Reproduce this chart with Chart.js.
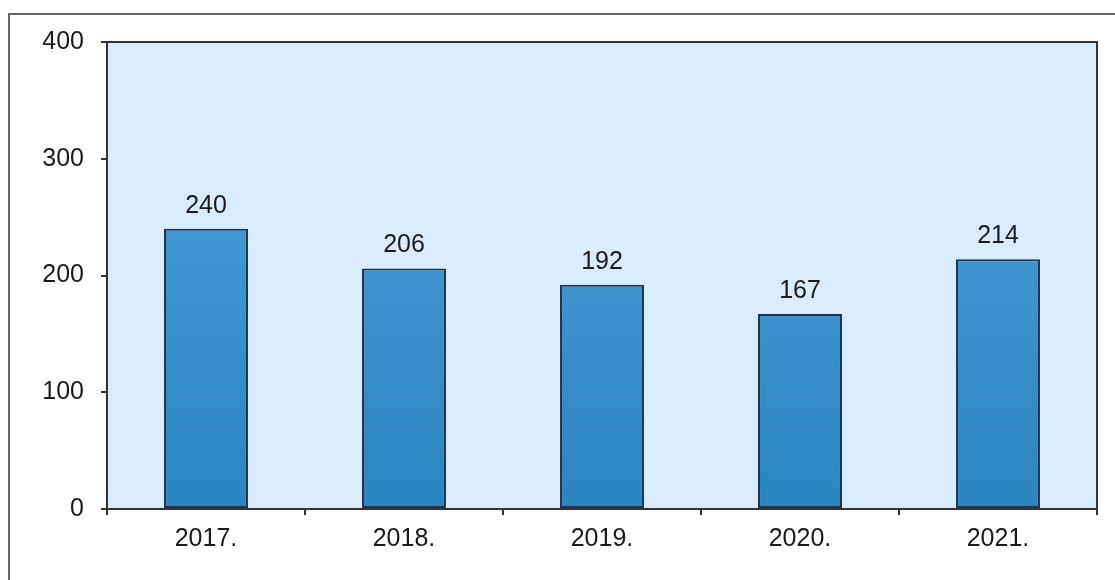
<!DOCTYPE html>
<html>
<head>
<meta charset="utf-8">
<script src="https://cdn.jsdelivr.net/npm/chart.js@4/dist/chart.umd.min.js"></script>
<style>
  html, body { margin: 0; padding: 0; background: #fff; }
  #wrap { width: 1115px; height: 580px; position: relative; }
</style>
</head>
<body>
<div id="wrap"><canvas id="chartGodine" width="1115" height="580"></canvas></div>
<script>
// podaci sa grafikona
const godine = ["2017.", "2018.", "2019.", "2020.", "2021."];
const brojSlucajeva = [240, 206, 192, 167, 214];
const yTicks = [0, 100, 200, 300, 400];

const ctx = document.getElementById("chartGodine");

// pozadina, okvir i brojevi iznad stupaca
const okvirPlugin = {
  id: "okvir",
  beforeDraw(chart) {
    const c = chart.ctx;
    const a = chart.chartArea;
    c.save();
    c.fillStyle = "#d9ecfb";
    c.fillRect(a.left, a.top, a.right - a.left, a.bottom - a.top);
    // vanjski okvir slike
    c.strokeStyle = "#666";
    c.lineWidth = 2;
    c.beginPath();
    c.moveTo(9, 580);
    c.lineTo(9, 14);
    c.lineTo(1115, 14);
    c.stroke();
    c.restore();
  },
  afterDraw(chart) {
    const c = chart.ctx;
    const a = chart.chartArea;
    c.save();
    c.strokeStyle = "#333";
    c.lineWidth = 2;
    c.beginPath();
    c.moveTo(a.left, a.top);
    c.lineTo(a.right, a.top);
    c.lineTo(a.right, a.bottom);
    c.stroke();
    // vrijednosti
    c.fillStyle = "#1a1a1a";
    c.font = "25px 'Liberation Sans', Arial, sans-serif";
    c.textAlign = "center";
    c.textBaseline = "alphabetic";
    chart.getDatasetMeta(0).data.forEach(function (bar, i) {
      c.fillText(brojSlucajeva[i], bar.x, bar.y - 16);
    });
    c.restore();
  },
};

function gradijent(context) {
  const chart = context.chart;
  const a = chart.chartArea;
  if (!a) return "#3a92cf";
  const g = chart.ctx.createLinearGradient(0, a.top, 0, a.bottom);
  g.addColorStop(0, "#4ea3dc");
  g.addColorStop(1, "#2c84c0");
  return g;
}

const myChart = new Chart(ctx, {
  type: "bar",
  data: {
    labels: godine,
    datasets: [
      {
        data: brojSlucajeva,
        backgroundColor: gradijent,
        borderColor: "#1d3550",
        borderWidth: 2,
        borderSkipped: false,
        categoryPercentage: 1,
        barPercentage: 0.424,
      },
    ],
  },
  options: {
    responsive: false,
    animation: false,
    devicePixelRatio: 1,
    layout: { padding: { top: 42, right: 18, bottom: 0, left: 0 } },
    plugins: {
      legend: { display: false },
      tooltip: { enabled: false },
    },
    scales: {
      x: {
        offset: true,
        grid: {
          offset: true,
          drawOnChartArea: false,
          drawTicks: true,
          tickLength: 6,
          color: "#333",
          lineWidth: 2,
        },
        border: { display: true, color: "#333", width: 2 },
        ticks: {
          color: "#1a1a1a",
          padding: 9,
          maxRotation: 0,
          autoSkip: false,
          font: { family: "'Liberation Sans', Arial, sans-serif", size: 25 },
        },
        afterFit: function (scale) {
          scale.height = 71;
        },
      },
      y: {
        min: 0,
        max: 400,
        afterBuildTicks: function (scale) {
          scale.ticks = yTicks.map(function (v) { return { value: v }; });
        },
        grid: {
          drawOnChartArea: false,
          drawTicks: true,
          tickLength: 6,
          color: "#333",
          lineWidth: 2,
        },
        border: { display: true, color: "#333", width: 2 },
        ticks: {
          color: "#1a1a1a",
          padding: 17,
          font: { family: "'Liberation Sans', Arial, sans-serif", size: 25 },
        },
        afterFit: function (scale) {
          scale.width = 107;
        },
      },
    },
  },
  plugins: [okvirPlugin],
});
</script>
</body>
</html>
